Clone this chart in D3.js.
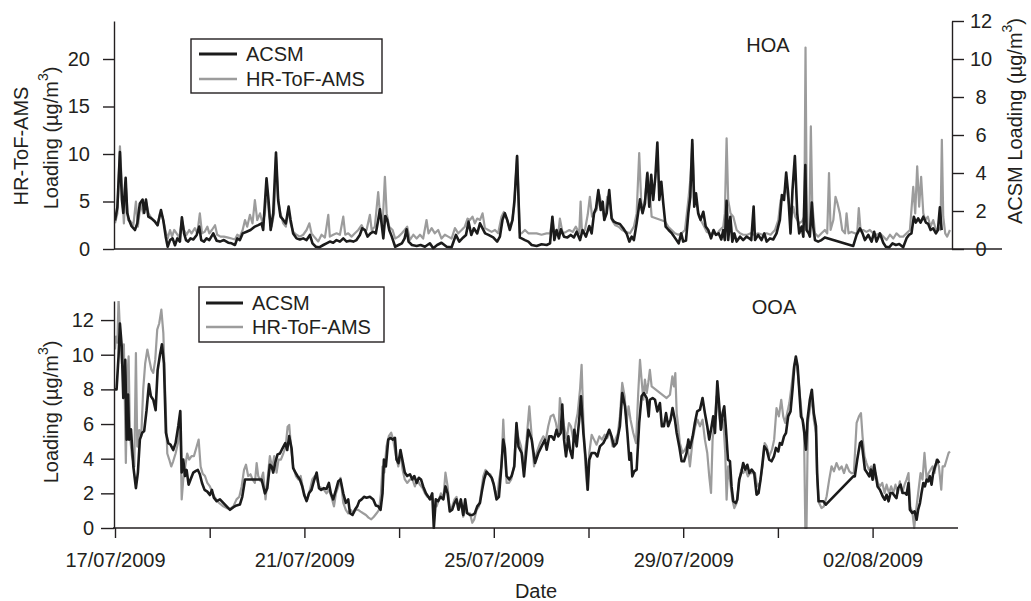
<!DOCTYPE html>
<html><head><meta charset="utf-8">
<script src="https://cdn.jsdelivr.net/npm/d3@7"></script>
<style>
body{margin:0;background:#fff}
svg text{font-family:"Liberation Sans",Arial,Helvetica,sans-serif;fill:#231f20}
</style></head><body>
<svg id="chart" width="1031" height="601"></svg>
<script>
// ---------------- DATA (time = hours after 17/07/2009 00:00) ----------------
const startDate = new Date(2009, 6, 17);
const seriesNames = ["ACSM", "HR-ToF-AMS"];
const panelTitles = ["HOA", "OOA"];
const hoaLeftTicks = [0, 5, 10, 15, 20];
const hoaRightTicks = [0, 2, 4, 6, 8, 10, 12];
const ooaTicks = [0, 2, 4, 6, 8, 10, 12];
const xTickDays = [0, 2, 4, 6, 8, 10, 12, 14, 16];
const xLabelDays = [0, 4, 8, 12, 16];

// HOA, ACSM (right axis, µg/m3)
const hoaAcsm = [[0,1.5],[1.2,2.2],[2.5,5.1],[3.5,2.6],[4.2,1.9],[5.4,3.75],[6.2,1.9],[7.2,1.5],[8.4,1.2],[10.1,1.0],[11.3,1.35],[12.6,2.4],[14.0,2.6],[14.8,1.9],[15.7,2.6],[16.9,1.7],[18.6,1.6],[20.2,1.45],[21.6,1.25],[23.3,2.05],[24.5,1.5],[25.7,0.65],[26.7,0.12],[27.9,0.47],[29.2,0.56],[30.4,0.2],[31.6,0.56],[32.9,0.39],[33.9,1.67],[35.0,0.82],[36.0,0.47],[37.1,0.39],[38.3,0.56],[39.7,0.5],[41.4,0.74],[42.7,1.18],[43.7,0.47],[45.1,0.39],[46.4,0.56],[47.8,0.47],[49.8,0.82],[51.5,0.44],[53.2,0.39],[55.2,0.47],[57.4,0.33],[59.1,0.3],[60.8,0.21],[62.0,0.56],[63.3,0.47],[64.7,0.82],[66.7,0.91],[68.7,1.0],[70.9,1.18],[72.6,1.26],[74.3,1.35],[75.1,1.0],[76.8,3.72],[77.8,2.58],[78.9,1.0],[80.2,1.88],[81.6,5.07],[82.7,2.58],[83.9,1.7],[85.3,1.53],[86.6,1.35],[88.0,2.23],[89.0,1.53],[90.3,0.82],[92.0,0.56],[93.7,0.5],[95.4,0.56],[97.1,0.47],[98.8,0.74],[100.1,0.3],[101.8,0.12],[103.5,0.09],[105.6,0.21],[107.2,0.3],[108.9,0.39],[110.6,0.33],[112.3,0.47],[114.0,0.39],[115.7,0.56],[117.4,0.39],[119.1,0.44],[120.8,0.39],[122.4,0.47],[124.1,0.74],[125.3,1.09],[126.7,1.0],[128.0,0.65],[129.5,0.82],[130.9,0.91],[132.2,0.82],[133.4,1.53],[134.3,2.09],[135.3,1.18],[136.0,0.56],[137.0,1.74],[138.0,1.53],[139.0,1.0],[140.3,0.65],[142.0,0.12],[143.7,0.21],[145.4,0.3],[146.8,0.56],[147.8,1.04],[148.8,0.39],[150.5,0.21],[152.9,0.16],[154.9,0.21],[157.1,0.12],[159.6,0.3],[161.3,0.04],[163.3,0.21],[165.5,0.33],[168.1,0.12],[170.6,0.09],[172.8,0.74],[174.5,0.39],[176.5,0.61],[177.9,0.74],[179.2,1.44],[180.6,0.74],[181.9,1.09],[183.6,0.82],[185.0,1.35],[186.3,1.09],[187.6,0.82],[189.3,0.74],[191.7,0.61],[193.7,0.39],[195.1,0.65],[196.4,1.53],[197.6,1.88],[198.8,1.53],[200.1,1.0],[201.5,1.53],[202.5,2.58],[203.8,4.89],[205.2,0.6],[206.1,0.56],[207.8,0.47],[209.5,0.39],[211.2,0.21],[213.7,0.16],[216.2,0.25],[218.8,0.21],[220.5,0.3],[221.7,1.7],[222.7,0.47],[223.8,1.0],[225.0,0.56],[226.0,1.04],[227.6,0.65],[229.3,0.61],[231.0,0.74],[232.6,0.61],[234.0,0.91],[235.7,0.47],[237.0,1.0],[238.7,0.65],[240.4,1.21],[241.6,0.82],[242.8,1.88],[243.8,2.14],[245.0,3.1],[246.2,2.05],[247.2,2.49],[248.0,1.53],[249.2,1.88],[250.5,3.1],[251.7,1.61],[252.9,1.44],[254.6,1.35],[255.9,1.32],[257.6,1.09],[259.3,0.82],[260.7,0.39],[261.9,0.65],[263.0,0.47],[264.4,1.35],[266.1,2.61],[267.4,1.88],[268.6,2.4],[269.8,3.98],[270.8,2.23],[271.8,3.9],[272.8,2.58],[273.9,3.81],[274.9,5.6],[275.9,2.58],[276.9,3.54],[277.9,2.4],[279.1,1.18],[280.6,1.0],[282.3,0.82],[284.0,0.56],[285.7,0.3],[287.0,0.82],[288.0,0.39],[289.4,0.44],[290.6,1.88],[291.6,2.75],[292.6,5.74],[293.6,2.23],[294.5,2.93],[295.6,1.88],[296.8,1.53],[298.2,1.96],[299.4,1.18],[300.7,1.0],[302.1,0.56],[303.4,1.0],[304.6,0.74],[306.0,0.82],[307.3,0.5],[308.3,1.0],[309.1,0.47],[310.0,2.54],[310.8,0.47],[311.9,1.7],[312.9,0.39],[313.9,0.82],[315.1,0.39],[316.8,0.65],[318.4,0.47],[320.1,0.65],[321.5,0.56],[322.5,0.47],[323.7,2.23],[324.4,0.47],[326.0,0.74],[327.7,0.47],[329.1,0.82],[330.3,0.39],[332.0,0.56],[333.6,0.5],[335.3,0.82],[337.0,1.53],[338.0,2.84],[339.1,2.58],[340.2,4.02],[341.2,2.93],[342.4,0.82],[343.4,3.1],[344.6,4.89],[345.8,1.88],[346.8,0.82],[348.0,1.18],[348.9,0.65],[349.9,4.42],[350.5,1.0],[351.6,0.82],[352.2,0.65],[353.2,2.44],[353.9,1.18],[354.8,0.47],[356.4,0.39],[358.1,0.47],[359.8,0.61],[374.2,0.16],[375.9,0.74],[377.6,1.09],[378.9,0.82],[380.1,0.47],[381.8,0.74],[383.5,0.39],[384.8,0.91],[386.0,0.39],[387.7,0.82],[389.4,0.33],[390.7,0.12],[392.4,0.09],[394.1,0.3],[395.8,0.21],[397.5,0.26],[399.5,0.09],[401.2,0.56],[402.4,0.74],[403.7,0.82],[404.9,1.7],[405.9,1.39],[407.1,1.61],[408.3,1.39],[409.7,1.7],[411.0,1.39],[412.2,1.32],[413.4,1.0],[414.7,1.09],[416.1,0.82],[417.1,1.0],[418.1,2.19],[419.0,1.0]];

// HOA, HR-ToF-AMS (left axis, µg/m3)
const hoaAms = [[0,2.7],[1.2,3.75],[2.5,10.8],[3.5,6.6],[4.5,2.7],[5.5,6.6],[6.6,3.05],[7.9,2.9],[9.3,2.5],[10.6,5.0],[11.6,2.35],[13.0,4.8],[14.3,3.75],[15.7,5.0],[17.0,3.75],[18.6,3.2],[20.1,2.9],[21.4,2.5],[22.8,3.75],[24.1,3.4],[25.5,2.0],[26.7,1.1],[27.9,2.0],[28.9,1.3],[30.0,2.0],[31.2,1.65],[32.6,1.2],[33.9,3.05],[35.0,2.0],[36.3,1.5],[37.6,2.0],[38.8,1.65],[40.5,2.2],[41.7,1.65],[43.0,3.75],[44.1,1.65],[45.4,1.8],[46.8,2.35],[47.8,1.65],[49.1,2.0],[50.7,2.5],[51.8,1.5],[53.5,1.3],[55.2,1.3],[57.4,1.2],[59.1,1.1],[60.8,1.0],[62.0,1.5],[63.3,1.3],[64.7,2.0],[65.9,3.05],[67.0,2.35],[68.4,3.6],[69.7,2.7],[70.9,5.15],[72.1,3.05],[73.5,3.75],[74.8,2.7],[76.0,3.75],[76.8,6.55],[78.2,3.4],[79.4,2.35],[80.6,3.75],[81.6,9.7],[82.7,5.15],[83.9,3.75],[85.3,2.7],[86.6,2.35],[87.8,4.1],[89.0,2.7],[90.3,1.8],[92.0,1.5],[93.7,1.3],[95.4,1.5],[97.1,2.0],[98.5,2.7],[99.6,1.65],[101.3,1.2],[103.0,0.8],[104.7,1.5],[106.4,1.2],[108.1,3.6],[108.9,1.3],[110.6,1.5],[112.3,1.65],[114.0,1.5],[115.7,3.4],[116.7,1.5],[118.2,1.65],[119.9,1.3],[121.6,1.65],[123.3,2.0],[125.0,2.5],[126.2,2.0],[127.5,2.0],[129.2,3.6],[130.1,2.0],[131.7,2.35],[133.4,6.0],[134.3,3.75],[135.6,2.35],[136.8,7.6],[137.7,3.75],[139.0,2.35],[140.7,2.0],[142.0,1.1],[143.7,1.3],[145.4,1.65],[146.8,2.0],[148.1,2.35],[149.5,0.95],[151.2,1.5],[152.9,1.1],[154.6,1.5],[156.2,1.1],[157.9,3.05],[158.9,1.65],[160.5,2.2],[162.1,1.65],[163.8,2.0],[165.5,1.1],[167.2,1.5],[168.9,1.3],[170.6,1.1],[172.3,2.2],[174.0,1.65],[175.7,2.0],[177.3,2.35],[178.7,3.2],[179.9,3.05],[181.2,3.4],[182.4,2.7],[183.6,3.2],[185.0,3.05],[186.3,3.75],[187.5,2.2],[189.2,2.0],[190.9,1.8],[192.6,2.0],[194.2,1.65],[195.9,3.4],[197.1,3.9],[198.5,3.2],[199.8,2.35],[201.2,2.9],[202.3,4.45],[203.8,9.8],[205.2,1.65],[206.1,1.65],[207.8,2.0],[209.5,1.65],[211.2,1.65],[213.7,1.65],[216.2,1.5],[218.8,1.65],[220.5,1.65],[221.7,3.05],[222.7,1.65],[224.7,1.65],[225.5,3.2],[226.9,1.65],[228.6,1.8],[230.3,2.0],[232.0,1.8],[233.6,2.35],[235.3,1.65],[236.0,5.0],[236.7,1.65],[238.2,2.0],[239.6,3.6],[240.7,5.5],[241.8,3.4],[242.8,3.75],[244.1,4.1],[245.5,5.7],[246.8,4.45],[248.2,3.05],[249.5,5.5],[250.9,4.8],[252.2,2.9],[253.6,2.5],[255.3,2.35],[257.0,2.0],[259.0,1.8],[261.0,1.65],[263.0,2.35],[264.4,3.75],[265.7,10.1],[266.9,4.1],[268.6,5.15],[269.9,8.1],[271.1,5.85],[272.0,3.4],[278.8,2.9],[280.4,2.35],[282.1,2.0],[283.8,1.65],[285.5,1.5],[287.2,1.65],[288.9,2.0],[290.6,5.15],[291.6,7.25],[292.6,11.1],[293.6,5.85],[294.8,4.8],[296.0,3.4],[297.3,2.9],[298.7,2.35],[299.9,1.8],[301.6,1.65],[303.2,1.65],[304.9,1.5],[306.6,2.0],[308.3,2.35],[309.1,3.75],[310.0,11.65],[310.8,5.15],[312.0,3.75],[313.4,3.4],[315.1,2.0],[316.8,1.65],[318.4,1.5],[320.5,1.5],[322.2,1.65],[323.8,1.5],[326.0,1.65],[328.2,1.5],[330.3,1.65],[332.3,1.5],[334.5,2.0],[336.2,3.05],[337.4,5.15],[338.7,5.5],[340.1,6.55],[341.4,5.15],[342.6,3.05],[343.8,4.45],[344.8,3.4],[345.8,3.05],[346.8,2.7],[348.2,2.9],[349.4,3.4],[350.0,21.2],[350.7,2.0],[351.9,2.0],[352.7,12.9],[353.4,4.8],[354.8,1.65],[356.4,1.3],[358.1,1.65],[359.8,2.0],[361.0,1.65],[361.9,8.0],[362.7,2.0],[364.1,3.05],[365.2,5.5],[366.2,4.8],[367.4,3.75],[368.6,2.0],[370.0,1.65],[370.8,3.75],[371.8,1.65],[373.3,1.8],[375.0,1.65],[376.2,1.65],[377.0,4.3],[377.9,2.0],[379.2,2.0],[380.9,1.8],[382.6,2.0],[384.3,1.65],[386.0,1.5],[387.7,1.65],[389.4,1.3],[391.1,0.95],[392.8,1.5],[394.5,1.1],[396.1,1.65],[397.8,1.3],[399.5,1.3],[401.2,1.65],[402.9,2.0],[404.6,6.55],[405.6,3.75],[406.6,8.7],[407.6,4.45],[408.6,7.6],[409.7,3.75],[410.7,3.05],[412.0,3.4],[413.4,2.35],[414.7,3.05],[416.1,2.0],[417.4,2.2],[418.4,2.0],[419.1,11.5],[419.8,3.4],[420.8,1.65],[421.8,1.3],[423.2,2.0]];

// OOA, ACSM (µg/m3)
const ooaAcsm = [[0,8.0],[0.8,8.0],[1.8,9.9],[2.5,11.8],[3.4,10.5],[4.2,7.5],[5.2,9.7],[5.9,5.1],[6.6,7.7],[7.2,5.1],[8.1,5.7],[9.3,3.55],[10.6,2.3],[11.6,3.2],[12.6,5.1],[13.8,5.5],[14.8,5.6],[16.0,6.8],[17.2,8.3],[18.2,7.6],[19.4,7.4],[20.6,6.8],[21.6,9.1],[22.8,10.0],[23.8,10.6],[24.8,9.5],[25.8,5.5],[27.0,4.9],[28.2,4.8],[29.5,4.5],[30.7,4.9],[32.1,5.9],[33.1,6.75],[33.8,3.2],[34.6,3.95],[35.5,3.0],[36.3,3.35],[37.3,2.5],[38.3,2.8],[39.7,3.2],[41.0,3.3],[42.0,3.35],[43.0,3.1],[44.1,2.6],[45.4,2.2],[46.8,2.1],[48.1,1.9],[49.1,2.2],[50.1,1.75],[51.5,1.55],[53.2,1.65],[54.9,1.45],[56.6,1.25],[58.3,1.05],[60.0,1.2],[61.6,1.3],[63.3,1.35],[64.5,1.8],[65.9,2.8],[67.5,2.8],[70.1,2.8],[72.6,2.8],[74.3,2.8],[76.0,2.0],[77.2,2.3],[78.5,3.65],[79.4,3.55],[80.2,3.2],[81.4,3.85],[82.4,4.25],[83.6,4.3],[84.9,4.6],[86.3,4.9],[87.3,4.5],[88.3,5.3],[89.5,4.6],[90.3,3.45],[91.5,3.2],[92.5,3.0],[93.7,2.8],[94.9,2.4],[95.9,1.9],[97.1,1.55],[98.3,2.0],[99.6,2.2],[100.8,2.7],[102.2,3.2],[103.4,2.3],[104.5,2.2],[105.9,2.3],[107.2,2.25],[108.4,2.6],[109.4,2.0],[110.6,1.65],[112.0,2.2],[113.2,2.7],[114.3,2.8],[115.7,2.0],[117.0,1.45],[118.2,1.65],[119.1,0.85],[120.4,0.75],[121.6,1.05],[122.8,1.25],[123.8,1.55],[125.0,1.65],[126.2,1.8],[127.5,1.75],[129.2,1.8],[130.9,1.65],[132.2,1.3],[133.4,1.25],[134.6,1.05],[135.6,2.0],[136.3,3.95],[137.3,3.55],[138.5,5.1],[139.7,5.2],[140.7,5.1],[141.9,5.2],[142.7,3.95],[143.7,3.75],[144.7,4.5],[145.8,3.85],[146.9,3.2],[148.1,3.0],[149.5,3.1],[150.7,2.8],[151.7,3.0],[152.9,2.6],[154.0,2.9],[155.1,2.8],[156.2,2.4],[157.6,2.0],[158.8,1.8],[159.6,1.65],[160.8,2.0],[161.6,0.0],[162.6,1.65],[163.8,1.55],[165.0,1.8],[166.4,1.65],[167.5,2.4],[168.6,2.0],[169.7,0.95],[170.9,1.05],[172.1,1.45],[173.1,1.65],[174.1,1.05],[175.3,1.65],[176.5,0.75],[177.5,1.65],[178.5,0.85],[179.9,0.75],[181.2,0.75],[182.4,0.85],[183.6,1.25],[185.0,1.45],[186.1,2.2],[187.1,2.8],[188.3,3.25],[189.5,3.1],[190.9,2.9],[192.0,2.5],[193.4,1.65],[194.6,1.8],[195.6,3.2],[196.8,5.1],[197.6,4.6],[198.5,3.0],[199.8,2.8],[201.0,3.0],[202.4,3.55],[203.5,6.05],[204.5,4.7],[206.1,4.33],[207.3,2.98],[209.5,5.67],[211.2,5.1],[212.9,3.75],[214.6,4.33],[216.2,4.71],[217.9,5.1],[218.8,4.52],[220.1,5.29],[221.3,5.29],[222.5,5.1],[223.8,5.67],[224.7,5.29],[225.9,5.48],[226.7,7.12],[227.6,5.1],[228.6,4.13],[229.8,5.29],[230.6,4.52],[231.8,4.04],[232.8,5.67],[234.0,4.71],[235.3,6.25],[236.2,7.6],[237.4,5.48],[238.7,3.85],[239.6,2.21],[240.4,3.94],[241.6,4.33],[243.3,4.33],[244.5,4.13],[245.8,4.71],[247.5,4.9],[249.2,5.29],[250.5,5.67],[251.7,5.29],[252.9,4.71],[254.3,4.9],[255.9,5.87],[257.1,7.79],[258.5,7.02],[259.7,5.48],[260.7,3.94],[261.5,4.33],[262.2,2.98],[263.2,3.27],[264.4,3.37],[265.7,6.06],[266.9,7.6],[268.1,7.79],[269.5,7.5],[270.5,6.44],[271.1,7.4],[272.5,7.5],[273.7,7.4],[274.9,6.73],[276.2,7.21],[277.2,5.87],[278.2,5.87],[279.3,6.63],[280.4,5.87],[281.6,6.25],[282.6,6.92],[283.8,6.25],[284.7,5.48],[286.0,4.71],[287.2,3.85],[288.4,3.85],[289.7,4.33],[290.6,5.1],[291.4,4.62],[292.8,5.29],[293.9,6.06],[295.1,6.73],[296.5,6.83],[297.8,7.5],[299.0,6.63],[300.2,5.87],[301.2,5.1],[302.4,5.87],[303.2,6.44],[304.1,5.48],[305.3,8.46],[306.3,7.02],[307.1,5.67],[308.0,6.63],[308.8,7.02],[309.7,5.67],[310.7,3.94],[311.7,3.85],[312.5,2.4],[313.4,1.54],[314.6,1.44],[315.4,1.63],[316.4,2.79],[317.6,3.27],[318.4,3.75],[319.5,3.37],[320.5,3.65],[321.5,3.17],[322.7,3.37],[324.0,3.17],[325.2,1.92],[326.2,2.02],[327.2,2.79],[328.2,3.75],[329.1,4.71],[330.3,4.52],[331.6,3.94],[332.8,3.85],[334.0,4.13],[335.0,4.62],[336.2,4.42],[337.0,4.9],[338.0,4.81],[339.1,5.29],[340.1,5.48],[341.2,6.44],[342.4,6.73],[343.4,7.98],[344.3,9.33],[345.1,9.9],[346.0,9.33],[346.8,7.98],[347.7,6.44],[348.5,6.25],[349.4,5.48],[350.2,4.52],[351.0,6.25],[352.2,7.4],[353.2,7.98],[354.2,6.63],[355.3,5.87],[355.9,3.17],[356.6,1.54],[357.6,1.54],[359.0,1.54],[360.3,1.35],[374.2,2.98],[375.0,2.98],[376.2,3.94],[377.6,4.9],[378.4,5.0],[379.3,4.13],[380.1,3.37],[381.3,3.17],[382.3,2.98],[383.1,3.37],[384.0,2.79],[384.8,3.65],[385.7,2.98],[386.5,2.4],[387.7,2.21],[389.1,1.83],[390.2,1.63],[391.1,1.92],[392.1,1.54],[393.1,2.02],[394.1,2.02],[395.3,1.83],[396.1,1.73],[397.0,2.31],[398.2,2.5],[399.2,2.02],[400.4,2.02],[401.2,1.92],[402.2,2.6],[402.9,1.06],[404.1,0.87],[405.3,0.96],[406.3,0.48],[407.1,1.06],[408.0,1.44],[408.8,2.02],[409.7,2.6],[410.5,2.4],[411.4,2.79],[412.2,2.69],[413.0,2.98],[413.9,2.5],[414.7,3.17],[415.7,3.56],[416.8,3.94],[417.8,3.75]];

// OOA, HR-ToF-AMS (µg/m3)
const ooaAms = [[0,10.3],[0.5,11.05],[1.2,10.7],[1.8,13.2],[2.5,11.45],[3.5,9.5],[4.5,10.6],[5.5,3.75],[6.2,8.55],[6.9,9.9],[7.6,5.3],[8.6,4.15],[9.8,3.55],[10.6,10.1],[11.3,4.7],[12.3,5.65],[13.3,5.3],[14.3,8.0],[15.3,9.5],[16.4,10.3],[17.4,9.7],[18.4,9.15],[19.4,8.95],[20.4,9.7],[21.4,11.45],[22.4,11.8],[23.5,12.6],[24.5,11.25],[25.5,7.6],[26.5,4.3],[27.5,3.95],[28.5,3.55],[29.5,3.85],[30.7,4.3],[31.9,4.9],[33.1,6.05],[33.8,1.65],[34.6,2.8],[35.6,3.55],[36.6,4.3],[37.6,3.95],[38.8,4.15],[40.0,4.15],[41.4,4.7],[42.4,5.1],[43.4,3.55],[44.4,3.15],[45.6,3.0],[46.8,2.6],[48.1,2.4],[49.5,2.0],[50.7,1.75],[51.8,1.55],[53.2,1.4],[54.9,1.25],[56.6,1.15],[58.3,1.1],[60.0,1.25],[61.6,1.65],[63.0,1.8],[64.2,2.4],[65.4,3.35],[66.4,3.65],[67.5,3.0],[68.7,3.1],[69.7,2.8],[70.9,2.6],[71.8,3.75],[72.6,3.0],[73.8,2.7],[75.1,3.2],[76.3,1.65],[77.3,2.8],[78.5,4.15],[79.7,3.45],[80.7,4.15],[81.9,3.2],[82.9,3.95],[84.1,3.95],[85.3,4.3],[86.5,4.7],[87.5,5.85],[88.3,5.95],[89.2,4.7],[90.3,3.55],[91.7,3.0],[92.9,2.8],[94.1,3.0],[95.1,2.4],[96.3,1.8],[97.5,1.65],[98.8,2.2],[100.0,2.8],[101.3,3.0],[102.2,2.8],[103.5,2.4],[104.7,2.3],[105.9,2.2],[107.2,2.0],[108.6,2.2],[109.8,1.75],[111.0,1.25],[112.0,2.0],[113.2,2.4],[114.3,2.9],[115.7,1.45],[117.0,1.05],[118.2,0.85],[119.4,1.05],[120.8,0.85],[122.1,1.05],[123.3,1.05],[124.5,0.95],[125.8,0.85],[127.2,0.75],[128.5,0.6],[129.9,0.5],[131.2,0.65],[132.6,0.85],[133.8,1.05],[134.8,2.0],[135.6,3.55],[136.5,3.2],[137.6,4.7],[138.8,5.3],[140.0,5.5],[141.0,5.1],[142.4,4.15],[143.6,3.55],[144.7,4.3],[145.8,3.35],[146.9,2.8],[148.1,2.6],[149.5,2.8],[150.8,2.8],[152.0,2.4],[153.2,2.8],[154.5,2.5],[155.9,2.3],[157.1,2.0],[158.3,1.8],[159.6,1.75],[160.8,1.8],[161.8,1.25],[163.0,1.25],[164.2,1.65],[165.2,2.0],[166.4,1.65],[167.5,3.2],[168.6,2.4],[169.7,1.05],[170.9,1.25],[172.1,1.65],[173.1,1.8],[174.3,1.05],[175.5,1.45],[176.5,0.65],[177.7,1.05],[178.7,0.85],[179.9,0.85],[181.1,0.3],[182.1,0.5],[183.3,1.05],[184.5,1.25],[185.5,2.0],[186.7,3.0],[187.8,3.35],[189.0,3.15],[190.2,3.1],[191.4,2.8],[192.6,2.2],[193.7,1.75],[194.7,2.8],[195.9,3.55],[196.8,6.25],[197.6,4.3],[198.5,2.6],[199.7,2.6],[200.8,2.8],[202.2,3.55],[203.5,5.85],[204.5,5.2],[205.8,4.71],[207.0,3.56],[208.6,5.1],[210.0,7.02],[211.2,5.29],[212.4,3.56],[213.7,4.33],[215.4,4.9],[217.1,5.29],[218.4,5.1],[219.6,5.87],[220.8,6.44],[222.2,6.54],[223.5,6.06],[224.7,5.29],[225.5,7.5],[226.7,6.63],[227.6,5.87],[228.9,5.1],[230.1,6.06],[231.1,5.87],[232.3,5.1],[233.5,6.06],[234.5,6.63],[235.7,7.98],[236.5,9.42],[237.4,6.25],[238.4,3.56],[239.4,2.21],[240.4,4.33],[241.6,5.38],[242.8,5.1],[244.1,4.81],[245.5,5.29],[246.8,5.1],[248.2,5.38],[249.5,5.19],[250.9,5.58],[252.2,4.71],[253.6,5.1],[254.9,5.48],[255.9,6.44],[257.1,8.37],[258.3,7.6],[259.3,6.06],[260.3,7.02],[261.3,6.25],[262.7,5.48],[264.1,4.9],[265.2,7.79],[266.1,9.71],[266.9,8.56],[267.8,7.4],[268.6,8.56],[269.5,7.79],[270.3,8.37],[271.1,9.13],[272.0,8.17],[279.6,7.5],[281.3,7.69],[282.5,8.75],[283.3,8.17],[284.0,8.94],[284.7,6.63],[285.5,5.87],[286.3,4.9],[287.7,4.33],[288.9,4.52],[290.1,4.81],[291.4,3.56],[292.8,5.1],[294.1,5.87],[295.3,6.25],[296.5,5.87],[297.8,6.25],[299.0,5.1],[300.2,4.33],[301.2,2.98],[302.1,2.02],[302.9,5.1],[303.8,6.06],[304.9,7.6],[306.1,6.63],[307.1,5.67],[308.3,6.25],[309.3,4.33],[310.0,1.63],[310.8,3.56],[311.7,2.79],[312.9,1.63],[313.9,1.15],[315.1,1.44],[316.2,2.6],[317.4,3.37],[318.4,3.17],[319.6,3.37],[320.8,2.98],[321.8,3.17],[323.2,3.17],[324.4,3.17],[325.5,2.4],[326.9,2.6],[328.2,3.56],[329.3,4.9],[330.3,4.71],[331.6,4.13],[333.0,4.52],[334.1,5.1],[335.3,6.92],[336.5,6.44],[337.7,7.4],[338.7,6.44],[339.7,6.06],[340.7,6.63],[341.8,7.21],[342.9,8.17],[344.1,9.33],[345.1,9.71],[346.1,8.94],[347.2,7.6],[348.2,6.44],[349.2,5.87],[349.9,0],[350.5,0],[351.2,6.06],[352.2,6.83],[353.2,7.6],[354.2,6.25],[355.3,5.48],[355.9,2.79],[356.9,1.44],[358.1,1.15],[359.3,1.25],[360.7,1.83],[362.0,2.79],[363.2,3.56],[364.4,3.27],[365.7,3.75],[367.1,3.37],[368.3,3.56],[369.5,3.17],[370.8,3.65],[372.2,3.27],[373.3,3.17],[374.5,3.17],[375.9,6.06],[377.1,6.44],[378.1,6.63],[378.9,5.29],[379.9,4.13],[380.9,3.75],[382.1,3.37],[383.3,3.56],[384.3,2.79],[385.5,3.17],[386.7,2.6],[387.7,2.4],[388.9,2.6],[390.1,2.02],[391.1,2.5],[392.3,2.02],[393.4,2.4],[394.5,2.02],[395.6,2.5],[396.8,2.02],[397.8,2.69],[399.0,2.02],[400.2,2.5],[401.2,2.79],[402.2,3.17],[403.1,1.25],[404.2,0.87],[405.1,0],[405.9,0.87],[407.1,2.02],[408.3,3.17],[409.3,2.79],[410.3,4.33],[411.4,2.79],[412.4,3.17],[413.4,3.37],[414.4,3.56],[415.4,3.17],[416.4,3.94],[417.6,3.56],[418.8,2.21],[419.5,3.56],[420.5,3.56],[421.5,3.94],[422.5,4.33],[423.2,4.42]];

// ---------------- DRAWING ----------------
const svg = d3.select("#chart");
const INK = "#231f20", GRAY = "#9c9c9c", BLACK = "#1b1b1b", FS = 20;
const hour = h => d3.timeMinute.offset(startDate, Math.round(h * 60));

const xLeft = 115, pxPerDay = 47.35, spanHours = 427.3;
const x = d3.scaleTime().domain([startDate, hour(spanHours)]).range([xLeft, xLeft + spanHours / 24 * pxPerDay]);

const pTop = {y0: 249, y1: 21}, pBot = {y0: 528, y1: 301};
const yHL = d3.scaleLinear().domain([0, 24]).range([pTop.y0, pTop.y1]);
const yHR = d3.scaleLinear().domain([0, 12]).range([pTop.y0, pTop.y1]);
const yO = d3.scaleLinear().domain([0, 13.1]).range([pBot.y0, pBot.y1]);

const defs = svg.append("defs");
defs.append("clipPath").attr("id", "clipTop").append("rect").attr("x", 114).attr("y", pTop.y1).attr("width", 890).attr("height", pTop.y0 - pTop.y1 + 1);
defs.append("clipPath").attr("id", "clipBot").append("rect").attr("x", 114).attr("y", pBot.y1).attr("width", 890).attr("height", pBot.y0 - pBot.y1 + 1);

function styleAxis(g, fs) {
  g.selectAll("path.domain").attr("stroke", INK).attr("stroke-width", 1.4);
  g.selectAll(".tick line").attr("stroke", INK).attr("stroke-width", 1.4);
  g.selectAll(".tick text").attr("font-size", fs).attr("font-family", '"Liberation Sans", Arial, sans-serif').attr("fill", INK);
}

function drawLine(data, y, color, width, clip) {
  const line = d3.line().x(d => x(hour(d[0]))).y(d => y(d[1])).curve(d3.curveLinear);
  svg.append("path").datum(data).attr("clip-path", `url(#${clip})`)
    .attr("d", line).attr("fill", "none").attr("stroke", color)
    .attr("stroke-width", width).attr("stroke-linejoin", "round").attr("stroke-linecap", "butt");
}

// ----- Top panel (HOA)
drawLine(hoaAms, yHL, GRAY, 2.2, "clipTop");
drawLine(hoaAcsm, yHR, BLACK, 2.6, "clipTop");

const gTL = svg.append("g").attr("transform", "translate(114,0)")
  .call(d3.axisLeft(yHL).tickValues(hoaLeftTicks).tickSize(11).tickSizeOuter(0).tickPadding(13).tickFormat(d3.format("d")));
styleAxis(gTL, FS);
const gTR = svg.append("g").attr("transform", "translate(952,0)")
  .call(d3.axisRight(yHR).tickValues(hoaRightTicks).tickSize(12).tickSizeOuter(0).tickFormat(d3.format("d")));
styleAxis(gTR, FS);
gTR.selectAll(".tick text").attr("x", 29).attr("text-anchor", "middle");
svg.append("line").attr("x1", 114).attr("x2", 1002).attr("y1", pTop.y0).attr("y2", pTop.y0).attr("stroke", INK).attr("stroke-width", 1.4);

// ----- Bottom panel (OOA)
drawLine(ooaAms, yO, GRAY, 2.2, "clipBot");
drawLine(ooaAcsm, yO, BLACK, 2.6, "clipBot");

const gBL = svg.append("g").attr("transform", "translate(114,0)")
  .call(d3.axisLeft(yO).tickValues(ooaTicks).tickSize(13).tickSizeOuter(0).tickPadding(7).tickFormat(d3.format("d")));
styleAxis(gBL, FS);

const fmt = d3.timeFormat("%d/%m/%Y");
const labelSet = new Set(xLabelDays);
const gBX = svg.append("g").attr("transform", `translate(0,${pBot.y0})`)
  .call(d3.axisBottom(x).tickValues(xTickDays.map(d => d3.timeDay.offset(startDate, d)))
    .tickSize(10).tickSizeOuter(0).tickPadding(15)
    .tickFormat((d, i) => labelSet.has(xTickDays[i]) ? fmt(d) : ""));
styleAxis(gBX, FS);
gBX.select("path.domain").remove();
svg.append("line").attr("x1", 113).attr("x2", 958).attr("y1", pBot.y0).attr("y2", pBot.y0).attr("stroke", INK).attr("stroke-width", 1.4);

// ----- Titles and labels
function unitLabel(sel, prefix) {
  sel.append("tspan").text(prefix + "Loading (µg/m");
  sel.append("tspan").attr("font-size", 14).attr("dy", -10).text("3");
  sel.append("tspan").attr("dy", 10).text(")");
}
svg.append("text").attr("transform", "translate(28,146) rotate(-90)").attr("text-anchor", "middle").attr("font-size", FS).text("HR-ToF-AMS");
unitLabel(svg.append("text").attr("transform", "translate(58,138) rotate(-90)").attr("text-anchor", "middle").attr("font-size", FS), "");
unitLabel(svg.append("text").attr("transform", "translate(1022,121) rotate(-90)").attr("text-anchor", "middle").attr("font-size", FS), "ACSM ");
unitLabel(svg.append("text").attr("transform", "translate(58,412) rotate(-90)").attr("text-anchor", "middle").attr("font-size", FS), "");
svg.append("text").attr("x", 536).attr("y", 598).attr("text-anchor", "middle").attr("font-size", FS).text("Date");
svg.append("text").attr("x", 768).attr("y", 52).attr("text-anchor", "middle").attr("font-size", FS).text(panelTitles[0]);
svg.append("text").attr("x", 774).attr("y", 314).attr("text-anchor", "middle").attr("font-size", FS).text(panelTitles[1]);

// ----- Legends
function legend(bx, by, bw, bh, lx1, lx2, ly, tx) {
  svg.append("rect").attr("x", bx).attr("y", by).attr("width", bw).attr("height", bh)
    .attr("fill", "#fff").attr("stroke", INK).attr("stroke-width", 1.4);
  const colors = [BLACK, GRAY], widths = [2.8, 2.6];
  seriesNames.forEach((name, i) => {
    svg.append("line").attr("x1", lx1).attr("x2", lx2).attr("y1", ly[i]).attr("y2", ly[i])
      .attr("stroke", colors[i]).attr("stroke-width", widths[i]);
    svg.append("text").attr("x", tx).attr("y", ly[i] + 7).attr("font-size", FS).text(name);
  });
}
legend(191, 39, 191, 54, 199, 237, [54, 79], 246);
legend(199, 287, 185, 55, 206, 243, [303, 327], 252);
</script></body></html>
